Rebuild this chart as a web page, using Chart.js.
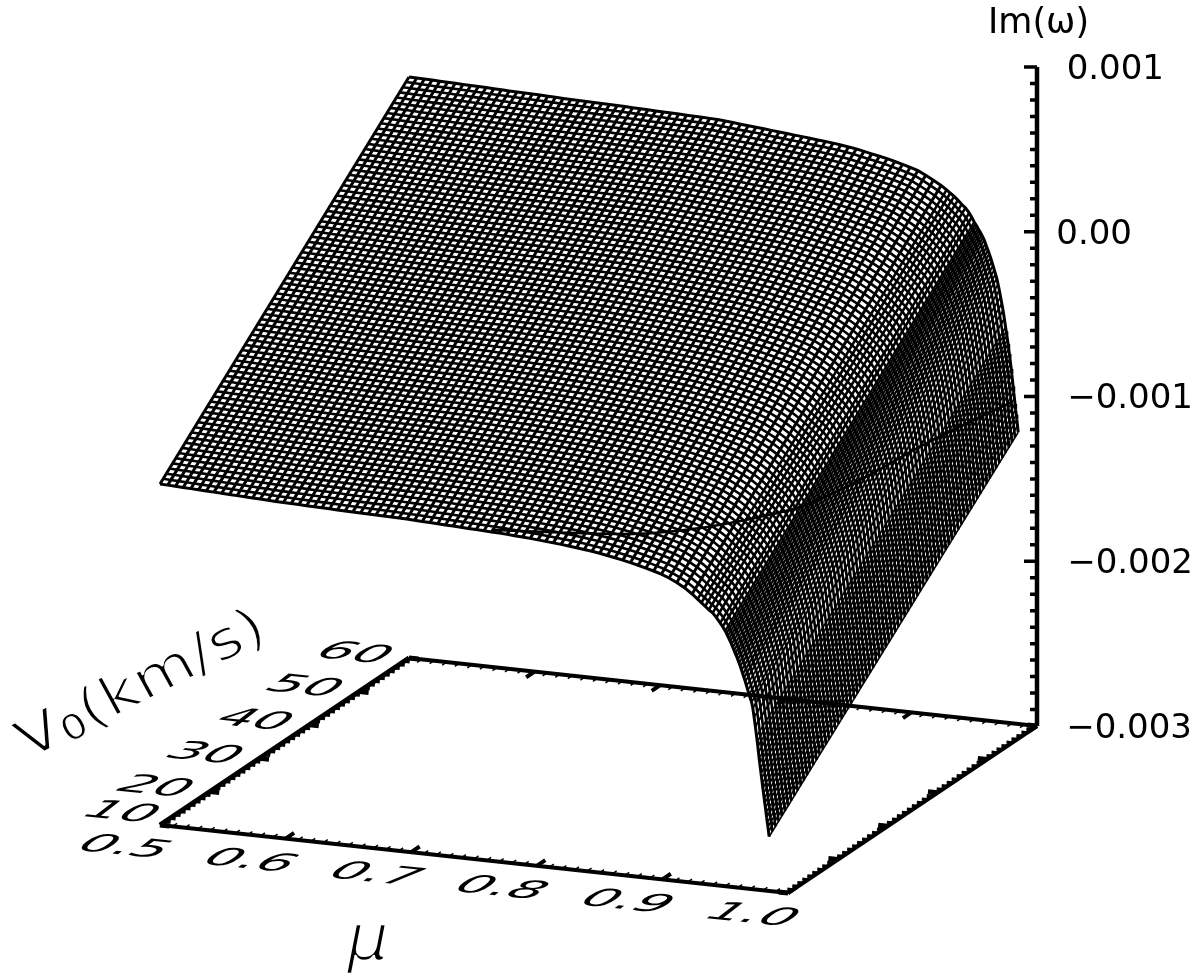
<!DOCTYPE html>
<html><head><meta charset="utf-8">
<style>html,body{margin:0;padding:0;background:#fff}canvas{display:block}</style>
<script src="https://cdn.jsdelivr.net/npm/chart.js@4"></script>
</head><body><canvas id="c" width="1200" height="979"></canvas>
<script>
// Surface samples: Im(omega) in units of 0.001 along the mu grid, at V0 = 10 and V0 = 60 km/s
const muStart = 0.5, muStep = 0.00614;
const imOmegaAtV10 = [-.930,-.932,-.934,-.936,-.938,-.940,-.942,-.944,-.946,-.948,-.950,-.952,-.954,-.956,-.958,-.960,-.961,-.963,-.964,-.966,-.967,-.968,-.969,-.971,-.972,-.973,-.974,-.975,-.976,-.977,-.978,-.980,-.981,-.983,-.985,-.987,-.989,-.991,-.993,-.995,-.997,-.999,-1.001,-1.003,-1.005,-1.008,-1.011,-1.014,-1.017,-1.021,-1.025,-1.029,-1.033,-1.038,-1.043,-1.049,-1.055,-1.062,-1.070,-1.079,-1.088,-1.098,-1.109,-1.121,-1.134,-1.148,-1.166,-1.189,-1.215,-1.248];
const imOmegaAtV60 = [.527,.526,.524,.523,.521,.520,.519,.517,.516,.514,.513,.511,.510,.508,.507,.505,.504,.503,.501,.500,.498,.497,.496,.495,.494,.492,.491,.490,.489,.487,.486,.485,.483,.482,.480,.479,.477,.476,.475,.473,.471,.467,.463,.458,.454,.450,.446,.441,.436,.432,.427,.423,.418,.413,.409,.404,.398,.391,.384,.374,.364,.355,.345,.333,.321,.308,.293,.270,.245,.218];
// Finer mu sampling towards mu = 1, where the surface drops sharply
const muFine = [.928,.931,.934,.937,.940,.943,.946,.948,.950,.951,.952,.953,.954,.955,.956,.957,.958,.959,.960,.961,.962,.963,.964,.965,.966,.967,.968,.969,.970,.971,.972,.973,.974,.975,.9755,.976,.9765,.977,.9775,.978,.9785,.979,.9795,.980,.9805,.981,.9815,.982,.9825,.983,.9835,.984,.9845,.985];
const imOmegaFineV10 = [-1.276,-1.295,-1.314,-1.333,-1.349,-1.375,-1.405,-1.427,-1.45,-1.465,-1.48,-1.495,-1.51,-1.527,-1.545,-1.562,-1.58,-1.597,-1.615,-1.635,-1.655,-1.677,-1.70,-1.722,-1.745,-1.77,-1.795,-1.82,-1.845,-1.865,-1.90,-1.955,-2.01,-2.07,-2.10,-2.13,-2.165,-2.20,-2.23,-2.26,-2.29,-2.32,-2.35,-2.38,-2.41,-2.44,-2.47,-2.495,-2.525,-2.555,-2.585,-2.61,-2.64,-2.67];
const imOmegaFineV60 = [.195,.178,.160,.140,.117,.098,.070,.045,.018,.007,-.005,-.018,-.03,-.042,-.055,-.07,-.085,-.105,-.125,-.145,-.165,-.187,-.21,-.235,-.26,-.285,-.31,-.345,-.38,-.42,-.46,-.50,-.55,-.60,-.625,-.65,-.675,-.70,-.73,-.76,-.79,-.82,-.85,-.885,-.92,-.955,-.99,-1.025,-1.06,-1.095,-1.125,-1.155,-1.19,-1.23];
const meshRows = 80;
// Contour Im(omega) = -0.001 on the surface
const contourMu = [.7635,.8635,.9035,.933,.9515,.964,.972,.988];
const contourV  = [10.4,13.3,16.7,21.2,25.3,33.5,44.9,57.7];
const contourZ  = -1;
// Axis labels
const muLabels = ['0.5','0.6','0.7','0.8','0.9','1.0'];
const muLabelValues = [.5,.6,.7,.8,.9,1];
const vLabels = ['10','20','30','40','50','60'];
const vLabelValues = [10,20,30,40,50,60];
const zLabels = ['0.001','0.00','\u22120.001','\u22120.002','\u22120.003'];
const zLabelValues = [1,0,-1,-2,-3];

// 3D axes of the box, as seen in the figure
const box = {ox:160, oy:825, muX:628, muY:68, vX:249, vY:-167, zY:164.75};
function project(mu, v, z){
  const t=(mu-.5)/.5, s=(v-10)/50;
  return {x:box.ox+box.muX*t+box.vX*s, y:box.oy+box.muY*t+box.vY*s-box.zY*(z+3)};
}
const muGrid = imOmegaAtV10.map((_,i)=>muStart+muStep*i).concat(muFine);
const zFront = imOmegaAtV10.concat(imOmegaFineV10);
const zBack  = imOmegaAtV60.concat(imOmegaFineV60);
const datasets=[];
const line=(data,w,extra)=>datasets.push(Object.assign({data,showLine:true,borderColor:'#000',borderWidth:w,pointRadius:0,fill:false,tension:0,spanGaps:false,borderCapStyle:'butt'},extra||{}));

// Box frame
const floor=-3;
line([project(.5,10,floor),project(1,10,floor)],4);
line([project(.5,60,floor),project(1,60,floor)],4);
line([project(.5,10,floor),project(.5,60,floor)],5);
line([project(1,10,floor),project(1,60,floor)],4);
line([project(1,60,floor),project(1,60,1)],4.5);

// Box ticks
function ticks(from,to,step,major,wantMajor,fn,w){
  const pts=[];
  const n=Math.round((to-from)/step);
  for(let k=0;k<=n;k++){
    if(((k%major)===0)!==wantMajor) continue;
    const [a,b]=fn(from+k*step); pts.push(a,b,{x:null,y:null});
  }
  line(pts,w);
}
ticks(.5,1,.01,10,false,v=>[project(v,10,floor),project(v,10+.9,floor)],1.5);
ticks(.5,1,.01,10,true, v=>[project(v,10,floor),project(v,10+1.7,floor)],4);
ticks(.5,1,.01,10,false,v=>[project(v,60,floor),project(v,60-.9,floor)],1.5);
ticks(.5,1,.01,10,true, v=>[project(v,60,floor),project(v,60-1.7,floor)],4);
ticks(10,60,1,10,false,v=>[project(.5,v,floor),project(.5+.0045,v,floor)],3);
ticks(10,60,1,10,true, v=>[project(.5,v,floor),project(.5+.0075,v,floor)],5);
ticks(10,60,1,10,false,v=>[project(1,v,floor),project(1-.0045,v,floor)],3);
ticks(10,60,1,10,true, v=>[project(1,v,floor),project(1-.0075,v,floor)],5);
// Vertical axis ticks
const ztick=(len,w,from,to,step)=>{
  const pts=[];const n=Math.round((to-from)/step);
  for(let k=0;k<=n;k++){
    const val=from+k*step;
    const isMajor=Math.abs(val-Math.round(val))<1e-6;
    if(isMajor!==(len>8)) continue;
    const p=project(1,60,val);
    pts.push(p,{x:p.x-len,y:p.y},{x:null,y:null});
  }
  line(pts,w);
};
ztick(7,3.5,-3,1,.1);
ztick(13,3.5,-2,1,.1);

// Surface mesh: lines of constant mu
const meshWidth = mu => mu<.925 ? 3 : mu<.95 ? 2.6 : mu<.966 ? 2.2 : mu<.975 ? 1.9 : 1.7;
muGrid.forEach((mu,i)=>{
  line([project(mu,10,zFront[i]),project(mu,60,zBack[i])],meshWidth(mu));
});
// Surface mesh: lines of constant V0
for(let r=0;r<meshRows;r++){
  const s=r/(meshRows-1), v=10+50*s;
  line(muGrid.map((mu,i)=>project(mu,v,zFront[i]+(zBack[i]-zFront[i])*s)),(r===0||r===meshRows-1)?3:2.6);
}
// Contour
line(contourMu.map((m,i)=>project(m,contourV[i],contourZ)),2.6,{tension:.35});

const textPlugin={id:'text',afterDatasetsDraw(ch){
  const g=ch.ctx;
  g.save();
  g.fillStyle='#000';
  g.lineJoin='round';
  const thin=(str,x,y,w)=>{g.fillText(str,x,y);g.strokeStyle='#fff';g.lineWidth=w;g.strokeText(str,x,y);};
  // Tick labels lying in the floor plane
  const plane=(str,px,py)=>{
    g.save();
    g.font='50px "DejaVu Sans"';g.textAlign='center';g.textBaseline='middle';
    g.transform(1.08,.11,-.6,.46,px,py);
    g.fillText(str,0,0);
    g.restore();
  };
  muLabels.forEach((t,i)=>{const p=project(muLabelValues[i],10,floor);plane(t,p.x-37,p.y+23);});
  vLabels.forEach((t,i)=>{const p=project(.5,vLabelValues[i],floor);plane(t,p.x-56+(i===0?16:0),p.y-4-(i===0?8:0));});
  // Vertical axis labels
  g.font='34px "DejaVu Sans"';g.textAlign='right';g.textBaseline='middle';
  zLabels.forEach((t,i)=>{
    const p=project(1,60,zLabelValues[i]);
    const right=[1164,1132,1193,1193,1192][i];
    g.fillText(t,right,p.y+3);
  });
  g.textAlign='left';g.textBaseline='alphabetic';
  g.font='35px "DejaVu Sans"';
  g.fillText('Im(\u03c9)',988,33);
  // Axis titles
  g.save();
  g.transform(1.13,-.57,.52,.95,28,760);
  g.font='50px "DejaVu Sans"';
  thin('V',0,0,1.8);
  const vw=g.measureText('V').width;
  g.font='32px "DejaVu Sans"';
  thin('0',vw,3,.8);
  const zw=g.measureText('0').width;
  g.font='50px "DejaVu Sans"';
  thin('(km/s)',vw+zw,0,1.8);
  g.restore();
  g.font='oblique 66px "DejaVu Sans"';
  thin('\u03bc',347,960,2.4);
  g.restore();
}};

new Chart(document.getElementById('c'),{
  type:'scatter',
  data:{datasets},
  options:{
    responsive:false,animation:false,devicePixelRatio:1,
    layout:{padding:0},
    events:[],
    plugins:{legend:{display:false},tooltip:{enabled:false},title:{display:false}},
    scales:{
      x:{type:'linear',min:0,max:1200,display:false},
      y:{type:'linear',min:0,max:979,reverse:true,display:false}
    }
  },
  plugins:[textPlugin]
});
</script></body></html>
